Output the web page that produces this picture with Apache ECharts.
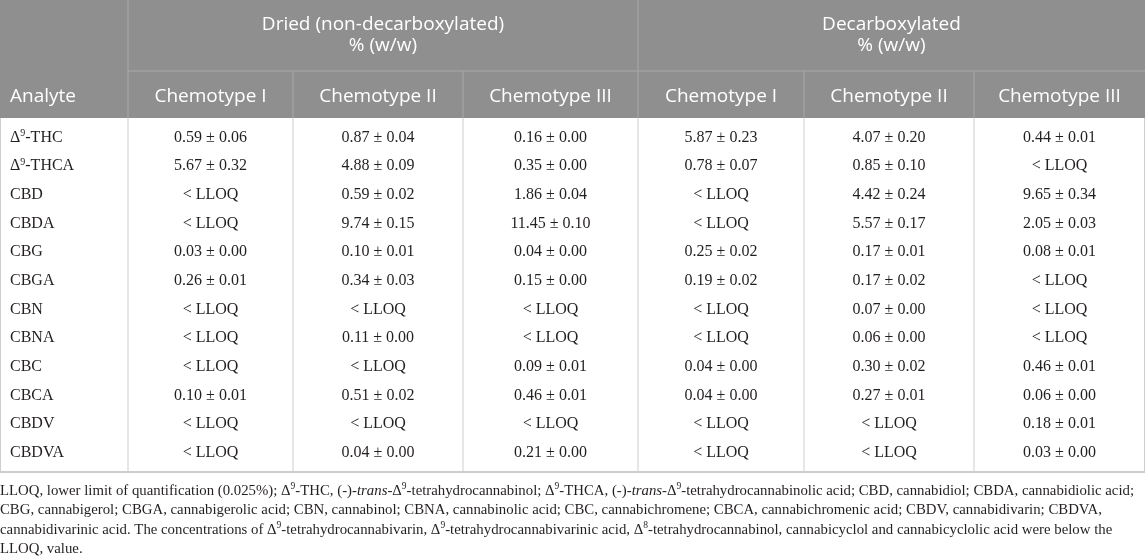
<!DOCTYPE html>
<html>
<head>
<meta charset="utf-8">
<title>Cannabinoid content by chemotype</title>
<script src="https://cdn.jsdelivr.net/npm/echarts@6.0.0/dist/echarts.min.js"></script>
<style>
html, body { margin: 0; padding: 0; background: #fff; }
#chart { width: 1145px; height: 559px; }
</style>
</head>
<body>
<div id="chart"></div>
<script>
var analytes = ['Δ9-THC', 'Δ9-THCA', 'CBD', 'CBDA', 'CBG', 'CBGA', 'CBN', 'CBNA', 'CBC', 'CBCA', 'CBDV', 'CBDVA'];
var groups = ['Dried (non-decarboxylated)', 'Decarboxylated'];
var unitLabel = '% (w/w)';
var chemotypes = ['Chemotype I', 'Chemotype II', 'Chemotype III'];
var firstHeader = 'Analyte';
var belowLimit = '< LLOQ';

// [mean, sd] per analyte, null = below LLOQ
var driedI = [[0.59, 0.06], [5.67, 0.32], null, null, [0.03, 0.00], [0.26, 0.01], null, null, null, [0.10, 0.01], null, null];
var driedII = [[0.87, 0.04], [4.88, 0.09], [0.59, 0.02], [9.74, 0.15], [0.10, 0.01], [0.34, 0.03], null, [0.11, 0.00], null, [0.51, 0.02], null, [0.04, 0.00]];
var driedIII = [[0.16, 0.00], [0.35, 0.00], [1.86, 0.04], [11.45, 0.10], [0.04, 0.00], [0.15, 0.00], null, null, [0.09, 0.01], [0.46, 0.01], null, [0.21, 0.00]];
var decarbI = [[5.87, 0.23], [0.78, 0.07], null, null, [0.25, 0.02], [0.19, 0.02], null, null, [0.04, 0.00], [0.04, 0.00], null, null];
var decarbII = [[4.07, 0.20], [0.85, 0.10], [4.42, 0.24], [5.57, 0.17], [0.17, 0.01], [0.17, 0.02], [0.07, 0.00], [0.06, 0.00], [0.30, 0.02], [0.27, 0.01], null, null];
var decarbIII = [[0.44, 0.01], null, [9.65, 0.34], [2.05, 0.03], [0.08, 0.01], null, null, null, [0.46, 0.01], [0.06, 0.00], [0.18, 0.01], [0.03, 0.00]];

var footnote = [
    'LLOQ, lower limit of quantification (0.025%); Δ9-THC, (-)-{it|trans}-Δ9-tetrahydrocannabinol; Δ9-THCA, (-)-{it|trans}-Δ9-tetrahydrocannabinolic acid; CBD, cannabidiol; CBDA, cannabidiolic acid;',
    'CBG, cannabigerol; CBGA, cannabigerolic acid; CBN, cannabinol; CBNA, cannabinolic acid; CBC, cannabichromene; CBCA, cannabichromenic acid; CBDV, cannabidivarin; CBDVA,',
    'cannabidivarinic acid. The concentrations of Δ9-tetrahydrocannabivarin, Δ9-tetrahydrocannabivarinic acid, Δ8-tetrahydrocannabinol, cannabicyclol and cannabicyclolic acid were below the',
    'LLOQ, value.'
];

// layout
var colWidths = [128, 165, 170, 175, 166, 170, 171];
var groupRowHeight = 71;
var headRowHeight = 47;
var bodyPad = 5;
var rowHeight = 28.67;

var headFill = '#8f8f8f';
var headLine = '#a9a9a9';
var bodyLine = '#cdcdcd';
var headFont = 'Open Sans';
var bodyFont = 'Liberation Serif';

var colEdges = [0];
colWidths.forEach(function (w) { colEdges.push(colEdges[colEdges.length - 1] + w); });
var tableWidth = colEdges[colEdges.length - 1];
var headBottom = groupRowHeight + headRowHeight;
var bodyTop = headBottom + bodyPad;
var tableBottom = bodyTop + rowHeight * analytes.length + bodyPad;

function sup(s) {
    return s.replace(/Δ(\d)/g, 'Δ{sup|$1}');
}

function fmt(v) {
    return v ? v[0].toFixed(2) + ' ± ' + v[1].toFixed(2) : belowLimit;
}

var cells = [];
var segments = [];

function addCell(x0, x1, y0, y1, text, kind) {
    cells.push({ x0: x0, x1: x1, y0: y0, y1: y1, text: text, kind: kind });
}

function addLine(x0, y0, x1, y1, color, width) {
    segments.push({ x0: x0, y0: y0, x1: x1, y1: y1, color: color, width: width || 1 });
}

// header
addCell(0, tableWidth, 0, headBottom, '', 'fill');
addCell(0, colEdges[1], groupRowHeight, headBottom, firstHeader, 'headLeft');
groups.forEach(function (g, gi) {
    addCell(colEdges[1 + gi * 3], colEdges[4 + gi * 3], 0, groupRowHeight, g + '\n' + unitLabel, 'head');
    chemotypes.forEach(function (c, ci) {
        var k = 1 + gi * 3 + ci;
        addCell(colEdges[k], colEdges[k + 1], groupRowHeight, headBottom, c, 'head');
    });
});

// body
var columns = [driedI, driedII, driedIII, decarbI, decarbII, decarbIII];
analytes.forEach(function (a, ri) {
    var y0 = bodyTop + ri * rowHeight;
    addCell(0, colEdges[1], y0, y0 + rowHeight, sup(a), 'bodyLeft');
    columns.forEach(function (col, ci) {
        addCell(colEdges[ci + 1], colEdges[ci + 2], y0, y0 + rowHeight, fmt(col[ri]), 'body');
    });
});

// rules
addLine(colEdges[1], groupRowHeight, tableWidth, groupRowHeight, headLine);
addLine(colEdges[1], 0, colEdges[1], headBottom, headLine);
addLine(colEdges[4], 0, colEdges[4], headBottom, headLine);
[2, 3, 5, 6].forEach(function (k) {
    addLine(colEdges[k], groupRowHeight, colEdges[k], headBottom, headLine);
});
colEdges.forEach(function (x, k) {
    var xx = k === 0 ? 0.5 : (k === colEdges.length - 1 ? x - 0.5 : x);
    addLine(xx, headBottom, xx, tableBottom, bodyLine);
});
addLine(0, tableBottom, tableWidth, tableBottom, bodyLine, 2);

function renderCell(params, api) {
    var c = cells[params.dataIndex];
    var p0 = api.coord([c.x0, c.y0]);
    var p1 = api.coord([c.x1, c.y1]);
    if (c.kind === 'fill') {
        return {
            type: 'rect',
            shape: { x: p0[0], y: p0[1], width: p1[0] - p0[0], height: p1[1] - p0[1] },
            style: { fill: headFill }
        };
    }
    var isHead = c.kind === 'head' || c.kind === 'headLeft';
    var left = c.kind === 'headLeft' || c.kind === 'bodyLeft';
    return {
        type: 'text',
        x: left ? p0[0] + 10 : (p0[0] + p1[0]) / 2,
        y: (p0[1] + p1[1]) / 2 + (isHead && c.y0 > 0 ? 2 : 0),
        style: {
            text: c.text,
            align: left ? 'left' : 'center',
            verticalAlign: 'middle',
            fontFamily: isHead ? headFont : bodyFont,
            fontSize: isHead ? 19 : 16,
            lineHeight: isHead ? 21 : 18,
            fill: isHead ? '#ffffff' : '#231f20',
            rich: {
                sup: { fontSize: 10, lineHeight: 10, verticalAlign: 'top', fontFamily: bodyFont, fill: '#231f20' }
            }
        }
    };
}

function renderLine(params, api) {
    var s = segments[params.dataIndex];
    var p0 = api.coord([s.x0, s.y0]);
    var p1 = api.coord([s.x1, s.y1]);
    return {
        type: 'line',
        shape: { x1: p0[0], y1: p0[1], x2: p1[0], y2: p1[1] },
        style: { stroke: s.color, lineWidth: s.width }
    };
}

var option = {
    animation: false,
    title: {
        left: 0,
        top: tableBottom + 9,
        padding: 0,
        text: footnote.map(sup).join('\n'),
        textStyle: {
            fontFamily: bodyFont,
            fontSize: 14.8,
            fontWeight: 'normal',
            color: '#231f20',
            lineHeight: 19.5,
            rich: {
                sup: { fontSize: 9.5, lineHeight: 10, verticalAlign: 'top' },
                it: { fontStyle: 'italic', fontSize: 14.8, lineHeight: 19.5 }
            }
        }
    },
    grid: {
        left: 0,
        top: 0,
        width: tableWidth,
        height: tableBottom
    },
    xAxis: {
        type: 'value',
        min: 0,
        max: tableWidth,
        show: false
    },
    yAxis: {
        type: 'value',
        min: 0,
        max: tableBottom,
        inverse: true,
        show: false
    },
    series: [
        {
            type: 'custom',
            silent: true,
            clip: false,
            renderItem: renderCell,
            data: cells.map(function (c) { return [c.x0, c.y0]; })
        },
        {
            type: 'custom',
            silent: true,
            clip: false,
            renderItem: renderLine,
            data: segments.map(function (s) { return [s.x0, s.y0]; })
        }
    ]
};

window.onload = function () {
    var chart = echarts.init(document.getElementById('chart'));
    chart.setOption(option);
};
</script>
</body>
</html>
